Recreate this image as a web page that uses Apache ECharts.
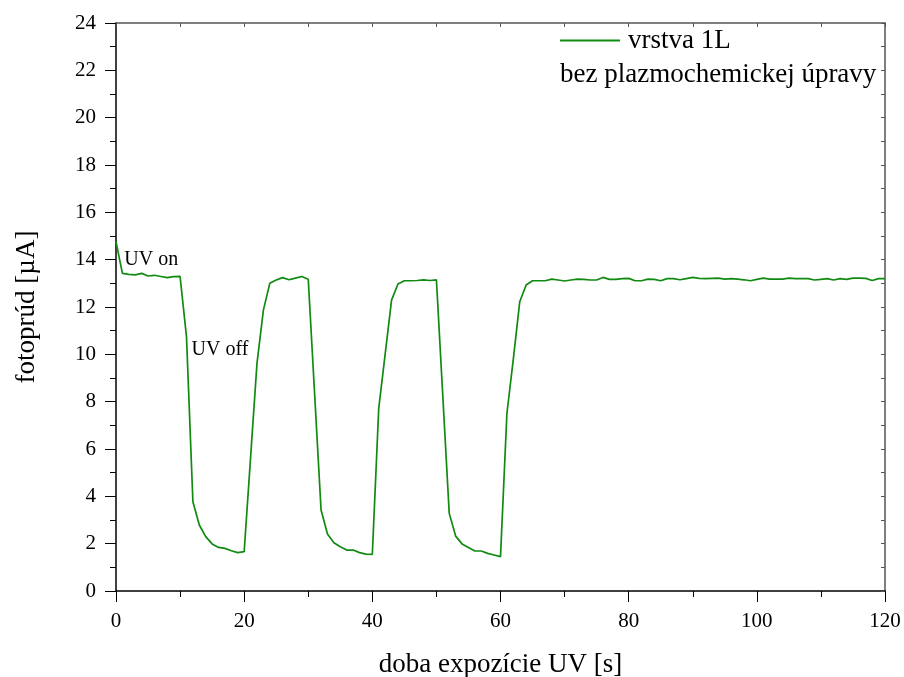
<!DOCTYPE html>
<html>
<head>
<meta charset="utf-8">
<script src="https://cdn.jsdelivr.net/npm/echarts@6/dist/echarts.min.js"></script>
<style>
  html, body { margin: 0; padding: 0; background: #fff; }
  #chart { width: 904px; height: 677px; }
</style>
</head>
<body>
<div id="chart"></div>
<script>
var times = [0,1,2,3,4,5,6,7,8,9,10,11,12,13,14,15,16,17,18,19,20,
  22,23,24,25,26,27,28,29,30,32,33,34,35,36,37,38,39,40,
  41,43,44,45,46,47,48,49,50,52,53,54,55,56,57,58,59,60,
  61,62,63,64,65,66,67,68,69,70,71,72,73,74,75,76,77,78,79,80,
  81,82,83,84,85,86,87,88,89,90,91,92,93,94,95,96,97,98,99,100,
  101,102,103,104,105,106,107,108,109,110,111,112,113,114,115,116,117,118,119,120];
var current = [14.76,13.42,13.38,13.36,13.42,13.31,13.34,13.29,13.24,13.28,13.29,10.74,3.77,2.79,2.30,1.99,1.84,1.80,1.70,1.62,1.66,
  9.62,11.87,13.00,13.14,13.24,13.15,13.22,13.29,13.17,3.42,2.41,2.04,1.87,1.73,1.73,1.62,1.56,1.55,
  7.72,12.29,12.97,13.11,13.11,13.12,13.15,13.12,13.15,3.28,2.32,1.99,1.84,1.69,1.69,1.59,1.52,1.45,
  7.50,9.80,12.22,12.93,13.11,13.11,13.11,13.18,13.14,13.10,13.14,13.18,13.17,13.14,13.14,13.25,13.17,13.17,13.20,13.21,
  13.11,13.11,13.18,13.17,13.11,13.20,13.20,13.15,13.20,13.25,13.21,13.20,13.21,13.22,13.18,13.20,13.18,13.15,13.11,13.17,
  13.22,13.18,13.18,13.18,13.22,13.20,13.20,13.20,13.14,13.17,13.20,13.14,13.20,13.17,13.22,13.22,13.21,13.12,13.20,13.20];
var seriesName = 'vrstva 1L';
var legendNote = 'bez plazmochemickej úpravy';
var xTitle = 'doba expozície UV [s]';
var yTitle = 'fotoprúd [µA]';

var points = times.map(function (t, i) { return [t, current[i]]; });
var font = 'Liberation Serif';

var myChart = echarts.init(document.getElementById('chart'));
var option = {
  textStyle: { fontFamily: font, color: '#000' },
  animation: false,
  grid: { left: 116, right: 19, top: 23, bottom: 86, containLabel: false, outerBoundsMode: 'none' },
  legend: {
    left: 555, top: 22,
    itemWidth: 60, itemHeight: 2, itemGap: 0,
    data: [{ name: seriesName, icon: 'rect' }],
    textStyle: { fontFamily: font, fontSize: 27, color: '#000', padding: [0, 0, 0, 3] }
  },
  graphic: [{
    type: 'text', left: 560, top: 61,
    style: { text: legendNote, font: '27px "Liberation Serif"', fill: '#000' }
  }],
  xAxis: [{
    type: 'value', min: 0, max: 120, interval: 20,
    name: xTitle, nameLocation: 'middle', nameGap: 60,
    nameTextStyle: { fontFamily: font, fontSize: 27, color: '#000' },
    axisLine: { lineStyle: { color: '#000', width: 1.5 } },
    axisTick: { inside: false, length: 11, lineStyle: { color: '#000' } },
    minorTick: { show: true, splitNumber: 2, length: 6, lineStyle: { color: '#000' } },
    axisLabel: { fontFamily: font, fontSize: 21, color: '#000', margin: 20 },
    splitLine: { show: false }
  }, {
    type: 'value', min: 0, max: 120, interval: 10, position: 'top',
    axisLine: { onZero: false, lineStyle: { color: '#555', width: 1.5 } },
    axisTick: { inside: true, length: 4, lineStyle: { color: '#555' } },
    axisLabel: { show: false },
    splitLine: { show: false }
  }],
  yAxis: [{
    type: 'value', min: 0, max: 24, interval: 2,
    name: yTitle, nameLocation: 'middle', nameGap: 76,
    nameTextStyle: { fontFamily: font, fontSize: 27, color: '#000' },
    axisLine: { show: true, lineStyle: { color: '#000', width: 1.5 } },
    axisTick: { show: true, inside: false, length: 11, lineStyle: { color: '#000' } },
    minorTick: { show: true, splitNumber: 2, length: 6, lineStyle: { color: '#000' } },
    axisLabel: { fontFamily: font, fontSize: 21, color: '#000', margin: 20 },
    splitLine: { show: false }
  }, {
    type: 'value', min: 0, max: 24, interval: 1, position: 'right',
    axisLine: { show: true, onZero: false, lineStyle: { color: '#555', width: 1.5 } },
    axisTick: { show: true, inside: true, length: 4, lineStyle: { color: '#555' } },
    axisLabel: { show: false },
    splitLine: { show: false }
  }],
  series: [{
    name: seriesName,
    type: 'line',
    xAxisIndex: 0, yAxisIndex: 0,
    data: points,
    symbol: 'none',
    lineStyle: { color: '#108a10', width: 1.7 },
    itemStyle: { color: '#108a10' },
    markPoint: {
      symbol: 'circle', symbolSize: 0,
      label: {
        show: true, position: 'right', distance: 0,
        fontFamily: font, fontSize: 20, color: '#000',
        formatter: function (p) { return p.name; }
      },
      data: [
        { name: 'UV on', coord: [1.3, 14.0] },
        { name: 'UV off', coord: [11.8, 10.2] }
      ]
    }
  }]
};
myChart.setOption(option);
</script>
</body>
</html>
